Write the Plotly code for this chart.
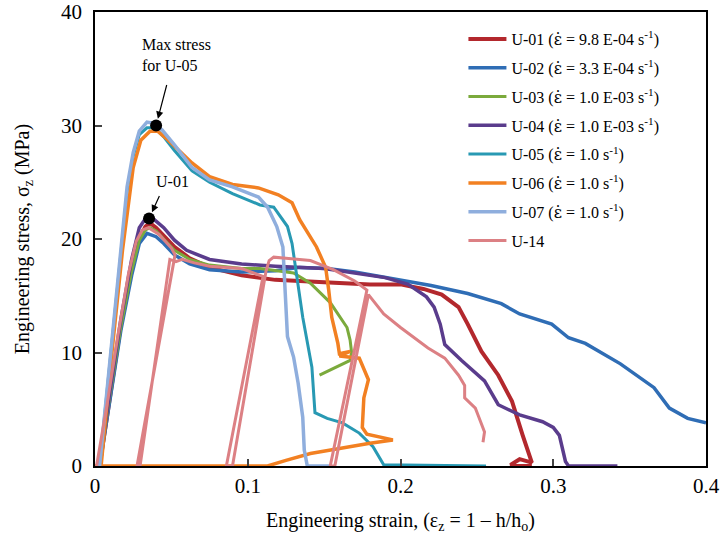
import plotly.graph_objects as go

# ---------------- data (strain, stress MPa) ----------------
u01_x = [0.003, 0.010, 0.017, 0.024, 0.029, 0.033, 0.036, 0.040, 0.045, 0.052, 0.062, 0.075, 0.096, 0.118, 0.150,
         0.180, 0.200, 0.215, 0.227, 0.238, 0.244, 0.253, 0.264, 0.273, 0.280, 0.284, 0.286, 0.278, 0.272, 0.276, 0.286]
u01_y = [0, 6.5, 12.5, 17.5, 20.0, 21.1, 21.4, 21.0, 20.3, 19.3, 18.3, 17.5, 16.8, 16.4, 16.2,
         16.0, 16.0, 15.6, 15.1, 14.0, 12.5, 10.1, 8.0, 5.7, 2.7, 1.2, 0.3, 0.6, 0.1, 0.0, 0.0]

u02_x = [0.003, 0.010, 0.017, 0.024, 0.029, 0.034, 0.040, 0.045, 0.052, 0.062, 0.075, 0.096, 0.118, 0.134, 0.152,
         0.170, 0.200, 0.220, 0.244, 0.266, 0.278, 0.299, 0.310, 0.321, 0.344, 0.366, 0.376, 0.388, 0.400]
u02_y = [0, 6.2, 12.0, 16.8, 19.6, 20.5, 20.2, 19.6, 18.6, 17.8, 17.3, 17.1, 17.2, 17.5, 17.4,
         17.1, 16.4, 15.9, 15.2, 14.3, 13.4, 12.5, 11.3, 10.8, 9.0, 6.9, 5.1, 4.2, 3.8]

u03_x = [0.003, 0.010, 0.017, 0.024, 0.029, 0.033, 0.036, 0.040, 0.045, 0.052, 0.062, 0.075, 0.096, 0.108, 0.130,
         0.141, 0.154, 0.165, 0.167, 0.168, 0.167, 0.158, 0.147]
u03_y = [0, 6.4, 12.3, 17.2, 19.9, 20.8, 21.0, 20.7, 20.0, 19.0, 18.2, 17.7, 17.4, 17.4, 17.0,
         16.1, 14.4, 12.2, 11.1, 10.0, 9.3, 8.7, 8.0]

u04_x = [0.003, 0.010, 0.017, 0.024, 0.029, 0.034, 0.038, 0.045, 0.052, 0.060, 0.075, 0.096, 0.118, 0.150, 0.190,
         0.205, 0.217, 0.222, 0.226, 0.229, 0.240, 0.255, 0.264, 0.278, 0.293, 0.300, 0.304, 0.306, 0.308, 0.310, 0.342]
u04_y = [0, 6.8, 13.0, 18.2, 21.0, 22.0, 21.8, 21.0, 19.9, 19.0, 18.2, 17.8, 17.6, 17.4, 16.6,
         16.0, 14.9, 14.0, 12.5, 10.7, 9.3, 7.5, 5.4, 4.5, 3.9, 3.4, 2.7, 1.5, 0.4, 0.0, 0.0]

u05_x = [0.003, 0.0065, 0.0098, 0.014, 0.018, 0.021, 0.025, 0.029, 0.034, 0.039, 0.045, 0.052, 0.0635, 0.075, 0.090,
         0.108, 0.117, 0.126, 0.129, 0.132, 0.136, 0.142, 0.144, 0.152, 0.162, 0.173, 0.182, 0.189, 0.256]
u05_y = [0, 4.6, 9.3, 15.0, 20.2, 24.2, 27.3, 29.2, 29.8, 29.8, 29.0, 27.8, 26.0, 25.0, 24.0,
         23.0, 22.8, 21.1, 19.6, 16.7, 13.1, 8.7, 4.7, 4.2, 3.8, 2.9, 1.7, 0.1, 0.0]

u06_x = [0.000, 0.004, 0.010, 0.018, 0.025, 0.030, 0.036, 0.041, 0.048, 0.0635, 0.075, 0.090, 0.107, 0.120, 0.129,
         0.134, 0.145, 0.151, 0.153, 0.155, 0.159, 0.160, 0.167, 0.160, 0.173, 0.176, 0.179, 0.176, 0.175, 0.178,
         0.195, 0.180, 0.162, 0.141, 0.125, 0.113, 0.000]
u06_y = [0, 0.0, 8.6, 19.0, 26.3, 28.7, 29.5, 29.5, 28.7, 26.7, 25.5, 24.8, 24.5, 23.9, 23.2,
         21.7, 19.3, 17.5, 15.5, 13.1, 10.8, 9.9, 10.1, 9.7, 9.5, 8.6, 7.6, 6.0, 3.4, 2.8,
         2.3, 2.0, 1.6, 1.1, 0.5, 0.0, 0.0]

u07_x = [0.003, 0.0065, 0.0098, 0.014, 0.0177, 0.021, 0.025, 0.029, 0.034, 0.038, 0.044, 0.052, 0.0635, 0.075, 0.090,
         0.107, 0.113, 0.119, 0.123, 0.126, 0.130, 0.133, 0.136, 0.137, 0.139, 0.154]
u07_y = [0, 4.8, 9.6, 15.3, 20.5, 24.6, 27.6, 29.5, 30.3, 30.2, 29.6, 28.3, 26.3, 25.2, 24.6,
         23.7, 22.8, 21.1, 19.3, 11.4, 9.6, 7.3, 4.3, 1.4, 0.0, 0.0]

u14_x = [0.001, 0.008, 0.015, 0.022, 0.027, 0.031, 0.035, 0.042, 0.050, 0.0524, 0.0275, 0.0295, 0.049, 0.053, 0.057,
         0.065, 0.075, 0.096, 0.110, 0.086, 0.090, 0.112, 0.114, 0.117, 0.125, 0.141, 0.156, 0.162, 0.170, 0.178,
         0.154, 0.157, 0.179, 0.189, 0.200, 0.218, 0.229, 0.238, 0.242, 0.242, 0.249, 0.251, 0.255, 0.254]
u14_y = [0, 5.5, 11.5, 17.0, 19.8, 20.8, 21.0, 20.4, 19.2, 18.6, 0.0, 0.0, 18.2, 18.0, 18.2,
         17.9, 17.6, 17.4, 16.7, 0.0, 0.0, 17.2, 18.1, 18.4, 18.3, 18.1, 17.3, 16.9, 16.3, 15.5,
         0.0, 0.0, 15.1, 13.4, 12.2, 10.4, 9.5, 8.0, 7.1, 6.0, 5.1, 4.4, 3.0, 2.1]

EPS = '<span style="font-family:DejaVu Serif">ε̇</span>'
series_names = [
    f"U-01 ({EPS} = 9.8 E-04 s<sup>-1</sup>)",
    f"U-02 ({EPS} = 3.3 E-04 s<sup>-1</sup>)",
    f"U-03 ({EPS} = 1.0 E-03 s<sup>-1</sup>)",
    f"U-04 ({EPS} = 1.0 E-03 s<sup>-1</sup>)",
    f"U-05 ({EPS} = 1.0 s<sup>-1</sup>)",
    f"U-06 ({EPS} = 1.0 s<sup>-1</sup>)",
    f"U-07 ({EPS} = 1.0 s<sup>-1</sup>)",
    "U-14",
]
series_x = [u01_x, u02_x, u03_x, u04_x, u05_x, u06_x, u07_x, u14_x]
series_y = [u01_y, u02_y, u03_y, u04_y, u05_y, u06_y, u07_y, u14_y]
colors = ["#B3282D", "#2F6DB5", "#7BAA3C", "#5A3C8C", "#2899B3", "#F28022", "#8FAEDD", "#DC8084"]
widths = [4, 3.5, 3, 3.5, 3, 3.5, 3.5, 3]

# marked points: (strain, stress)
max_u05 = (0.040, 30.0)
max_u01 = (0.0354, 21.8)

x_ticks = [0, 0.1, 0.2, 0.3, 0.4]
x_tick_text = ["0", "0.1", "0.2", "0.3", "0.4"]
y_ticks = [0, 10, 20, 30, 40]

FONT = "Liberation Serif"

fig = go.Figure()
for i, (nm, xs, ys) in enumerate(zip(series_names, series_x, series_y)):
    fig.add_trace(go.Scatter(x=xs, y=ys, mode="lines", name=nm, legendgroup=f"g{i}",
                             line=dict(color=colors[i], width=widths[i])))

fig.add_trace(go.Scatter(x=[max_u05[0], max_u01[0]], y=[max_u05[1], max_u01[1]], mode="markers",
                         marker=dict(color="black", size=12), showlegend=False, cliponaxis=False))

fig.add_annotation(x=max_u05[0], y=max_u05[1], ax=11, ay=-42, text="", showarrow=True,
                   arrowhead=2, arrowsize=1.2, arrowwidth=1.2, arrowcolor="black", standoff=7)
fig.add_annotation(x=max_u01[0], y=max_u01[1], ax=11, ay=-24, text="", showarrow=True,
                   arrowhead=2, arrowsize=1.2, arrowwidth=1.2, arrowcolor="black", standoff=7)
fig.add_annotation(x=0.0295, y=36.2, text="Max stress<br>for U-05", showarrow=False, xanchor="left",
                   align="left", font=dict(family=FONT, size=16, color="black"))
fig.add_annotation(x=0.051, y=25.1, text="U-01", showarrow=False,
                   font=dict(family=FONT, size=16, color="black"))

fig.update_layout(
    width=720, height=543,
    margin=dict(l=95, r=14, t=12, b=77),
    paper_bgcolor="white", plot_bgcolor="white",
    font=dict(family=FONT, size=20, color="black"),
    showlegend=True,
    legend=dict(x=0.603, y=0.978, xanchor="left", yanchor="top", bgcolor="rgba(0,0,0,0)",
                font=dict(family=FONT, size=16, color="black"), tracegroupgap=5, itemwidth=38),
    xaxis=dict(range=[0, 0.4], tickvals=x_ticks, ticktext=x_tick_text, ticks="inside", ticklen=7,
               tickwidth=1.5, showline=True, linecolor="black", linewidth=1.5, mirror=True,
               showgrid=False, zeroline=False, tickfont=dict(size=21), automargin=False,
               title=dict(text="Engineering strain, (ε<sub>z</sub> = 1 – h/h<sub>o</sub>)", font=dict(size=20), standoff=16)),
    yaxis=dict(range=[0, 40], tickvals=y_ticks, ticks="inside", ticklen=7,
               tickwidth=1.5, showline=True, linecolor="black", linewidth=1.5, mirror=True,
               showgrid=False, zeroline=False, tickfont=dict(size=21), automargin=False,
               ticklabelstandoff=7,
               title=dict(text="Engineering stress, σ<sub>z</sub> (MPa)", font=dict(size=20), standoff=26)),
)

fig.write_html("out.html", config={"displayModeBar": False},
               post_script="document.body.style.margin='0';")
